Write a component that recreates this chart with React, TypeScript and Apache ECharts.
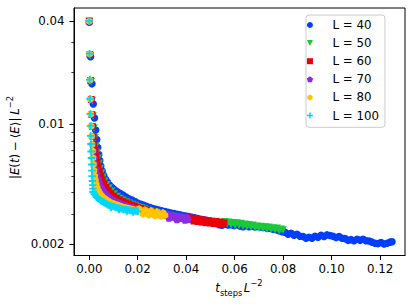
import React, { useEffect, useRef } from 'react';
import * as echarts from 'echarts';

// ---- axis definitions ----
const X_RANGE = [-0.0063, 0.1303];
const Y_RANGE = [0.001713, 0.04764];
const X_TICKS = [0, 0.02, 0.04, 0.06, 0.08, 0.1, 0.12];
const Y_MAJOR = [0.002, 0.01, 0.04];
const Y_MINOR = [0.003, 0.004, 0.005, 0.006, 0.007, 0.008, 0.009, 0.02, 0.03];

// ---- series data: [t_steps L^-2, |E(t)-<E>| L^-2] ----
const L40: [number, number][] = [[0, 0.0394],[0.00054, 0.02473],[0.00111, 0.01719],[0.00165, 0.01313],[0.00215, 0.01088],[0.00264, 0.00925],[0.0031, 0.00814],[0.00351, 0.00731],[0.00392, 0.00665],[0.00433, 0.00614],[0.00475, 0.0057],[0.00533, 0.00533],[0.00599, 0.00502],[0.00669, 0.00478],[0.00751, 0.00458],[0.00842, 0.0044],[0.00937, 0.00427],[0.0104, 0.00415],[0.01143, 0.00405],[0.01267, 0.00395],[0.01391, 0.00386],[0.01515, 0.00376],[0.01639, 0.00367],[0.01763, 0.00361],[0.01887, 0.00354],[0.0201, 0.00346],[0.02134, 0.00341],[0.02258, 0.00336],[0.02382, 0.00331],[0.02506, 0.00326],[0.0263, 0.00322],[0.02753, 0.00319],[0.02877, 0.00315],[0.03001, 0.00312],[0.03125, 0.00309],[0.03249, 0.00306],[0.03373, 0.00303],[0.03497, 0.00301],[0.0362, 0.00298],[0.03744, 0.00296],[0.03868, 0.00293],[0.03992, 0.00291],[0.04116, 0.00289],[0.0424, 0.00286],[0.04363, 0.00284],[0.04487, 0.00281],[0.04611, 0.00279],[0.04735, 0.00277],[0.04859, 0.00274],[0.04983, 0.00272],[0.05106, 0.00268],[0.0523, 0.00265],[0.05354, 0.00259],[0.05478, 0.00257],[0.05602, 0.00261],[0.05726, 0.00258],[0.0585, 0.00259],[0.05973, 0.00256],[0.06097, 0.00259],[0.06221, 0.00255],[0.06345, 0.00252],[0.06469, 0.00256],[0.06593, 0.00252],[0.06717, 0.00254],[0.06841, 0.00251],[0.06965, 0.00253],[0.07089, 0.00251],[0.07212, 0.0025],[0.07336, 0.00247],[0.0746, 0.00247],[0.07584, 0.00244],[0.07708, 0.00242],[0.07832, 0.00239],[0.07955, 0.00236],[0.08079, 0.00234],[0.08203, 0.00228],[0.08327, 0.00231],[0.0845, 0.00225],[0.08574, 0.00228],[0.08698, 0.00222],[0.08822, 0.00221],[0.08946, 0.00216],[0.0907, 0.00219],[0.09193, 0.00216],[0.09317, 0.00222],[0.09441, 0.00219],[0.09565, 0.00225],[0.09689, 0.00221],[0.09813, 0.00226],[0.09937, 0.00224],[0.1006, 0.00222],[0.10184, 0.00218],[0.10308, 0.00221],[0.10432, 0.00216],[0.10556, 0.00215],[0.1068, 0.0021],[0.10803, 0.00212],[0.10927, 0.00209],[0.11051, 0.00213],[0.11175, 0.0021],[0.11299, 0.00213],[0.11423, 0.00209],[0.11546, 0.00208],[0.1167, 0.00205],[0.11794, 0.00202],[0.11918, 0.00201],[0.12042, 0.00204],[0.12166, 0.002],[0.12289, 0.00202],[0.12413, 0.00205],[0.12496, 0.00206]];

const L50: [number, number][] = [[0, 0.0398],[0.0004, 0.02506],[0.0008, 0.01767],[0.0012, 0.01368],[0.0016, 0.01117],[0.002, 0.00951],[0.0024, 0.00831],[0.0028, 0.00746],[0.0033, 0.00684],[0.00367, 0.00635],[0.00409, 0.0059],[0.00454, 0.00552],[0.00508, 0.00519],[0.0057, 0.0049],[0.0064, 0.00466],[0.00722, 0.00443],[0.00813, 0.00424],[0.00916, 0.00407],[0.01028, 0.00392],[0.01152, 0.00379],[0.01276, 0.00369],[0.01399, 0.0036],[0.01523, 0.00352],[0.01647, 0.00346],[0.01771, 0.0034],[0.01895, 0.00335],[0.02019, 0.00329],[0.02142, 0.00325],[0.02266, 0.0032],[0.0239, 0.00315],[0.02514, 0.00311],[0.02638, 0.00308],[0.02762, 0.00305],[0.02886, 0.00302],[0.0301, 0.00299],[0.03133, 0.00296],[0.03257, 0.00293],[0.03381, 0.00291],[0.03505, 0.00289],[0.03629, 0.00286],[0.03752, 0.00284],[0.03876, 0.00282],[0.04, 0.0028],[0.04124, 0.00278],[0.04248, 0.00276],[0.04372, 0.00274],[0.04496, 0.00273],[0.04619, 0.00271],[0.04743, 0.0027],[0.04867, 0.00268],[0.04991, 0.00267],[0.05115, 0.00266],[0.05239, 0.00265],[0.05362, 0.00264],[0.05486, 0.00263],[0.05602, 0.0027],[0.05685, 0.00262],[0.05767, 0.00268],[0.0585, 0.00259],[0.05932, 0.00266],[0.06015, 0.00257],[0.06097, 0.00265],[0.0618, 0.00256],[0.06262, 0.00263],[0.06345, 0.00254],[0.06428, 0.00261],[0.0651, 0.00252],[0.06593, 0.00259],[0.06675, 0.00251],[0.06758, 0.00257],[0.06841, 0.00249],[0.06923, 0.00254],[0.07006, 0.00247],[0.07089, 0.00253],[0.07171, 0.00246],[0.07254, 0.00251],[0.07336, 0.00244],[0.07419, 0.0025],[0.07501, 0.00243],[0.07584, 0.00248],[0.07667, 0.00241],[0.07749, 0.00247],[0.07832, 0.00239],[0.07914, 0.00244],[0.07997, 0.00241]];

const L60: [number, number][] = [[0, 0.04],[0.00028, 0.0255],[0.00056, 0.018],[0.00083, 0.01395],[0.00111, 0.01138],[0.00139, 0.00968],[0.00167, 0.00845],[0.00194, 0.00757],[0.00248, 0.00702],[0.00285, 0.00648],[0.00322, 0.00601],[0.00367, 0.00562],[0.00417, 0.00528],[0.00475, 0.00498],[0.00537, 0.00472],[0.00607, 0.00449],[0.00689, 0.00428],[0.00784, 0.0041],[0.00888, 0.00395],[0.00999, 0.00381],[0.01123, 0.0037],[0.01247, 0.00362],[0.01371, 0.00354],[0.01494, 0.00348],[0.01618, 0.00343],[0.01742, 0.00337],[0.01866, 0.00333],[0.0199, 0.00327],[0.02114, 0.00323],[0.02238, 0.00319],[0.02361, 0.00315],[0.02485, 0.00311],[0.02609, 0.00308],[0.02733, 0.00305],[0.02857, 0.00301],[0.02981, 0.00299],[0.03104, 0.00296],[0.03228, 0.00293],[0.03352, 0.00291],[0.03476, 0.00289],[0.036, 0.00287],[0.03724, 0.00285],[0.03847, 0.00283],[0.03971, 0.00281],[0.04074, 0.00285],[0.04157, 0.00277],[0.0424, 0.00283],[0.04322, 0.00272],[0.04405, 0.0028],[0.04487, 0.0027],[0.0457, 0.00278],[0.04653, 0.00268],[0.04735, 0.00276],[0.04818, 0.00266],[0.049, 0.00274],[0.04983, 0.00265],[0.05065, 0.00272],[0.05148, 0.00263],[0.05231, 0.00271],[0.05313, 0.00262],[0.05396, 0.00269],[0.05478, 0.0026],[0.05561, 0.00266]];

const L70: [number, number][] = [[0, 0.04],[0.0002, 0.0257],[0.00041, 0.0181],[0.00061, 0.014],[0.00082, 0.01143],[0.00102, 0.00972],[0.00122, 0.00848],[0.00143, 0.0076],[0.00169, 0.00698],[0.00202, 0.00639],[0.00235, 0.0059],[0.00272, 0.00547],[0.00318, 0.00512],[0.00367, 0.00481],[0.00425, 0.00456],[0.00491, 0.00433],[0.00566, 0.00415],[0.00648, 0.004],[0.00751, 0.00386],[0.00854, 0.00374],[0.00958, 0.00365],[0.01061, 0.00358],[0.01185, 0.00351],[0.01309, 0.00345],[0.01432, 0.00339],[0.01556, 0.00335],[0.0168, 0.00331],[0.01804, 0.00327],[0.01928, 0.00323],[0.02052, 0.00319],[0.02176, 0.00315],[0.02299, 0.00312],[0.02423, 0.00309],[0.02547, 0.00306],[0.02671, 0.00303],[0.02795, 0.003],[0.02918, 0.00298],[0.03042, 0.00296],[0.03166, 0.00293],[0.03208, 0.00299],[0.03249, 0.00292],[0.0329, 0.00283],[0.03331, 0.0029],[0.03373, 0.00296],[0.03414, 0.00289],[0.03497, 0.00287],[0.03538, 0.00293],[0.03579, 0.00285],[0.0362, 0.00277],[0.03662, 0.00284],[0.03703, 0.00291],[0.03744, 0.00283],[0.03827, 0.00282],[0.03868, 0.00289],[0.03909, 0.00281],[0.0395, 0.00275],[0.03992, 0.00279],[0.04033, 0.00287],[0.04074, 0.00278]];

const L80: [number, number][] = [[0, 0.0399],[0.00016, 0.0257],[0.00031, 0.0181],[0.00047, 0.014],[0.00063, 0.01145],[0.00078, 0.00973],[0.00094, 0.0085],[0.00109, 0.00762],[0.00132, 0.00698],[0.00153, 0.00635],[0.00173, 0.00582],[0.00194, 0.00536],[0.00223, 0.00498],[0.00256, 0.00469],[0.00289, 0.00444],[0.0033, 0.00424],[0.0038, 0.00407],[0.00442, 0.00394],[0.00504, 0.00383],[0.00566, 0.00375],[0.00627, 0.00369],[0.00689, 0.00363],[0.00772, 0.00357],[0.00854, 0.00351],[0.00937, 0.00346],[0.0102, 0.00343],[0.01102, 0.00339],[0.01185, 0.00336],[0.01267, 0.00333],[0.0135, 0.0033],[0.01432, 0.00327],[0.01515, 0.00325],[0.01598, 0.00323],[0.0168, 0.00321],[0.01763, 0.00319],[0.01845, 0.00317],[0.01928, 0.00314],[0.0201, 0.00313],[0.02052, 0.00321],[0.02093, 0.00311],[0.02176, 0.00309],[0.02217, 0.00299],[0.02258, 0.00308],[0.02299, 0.00316],[0.02341, 0.00306],[0.02423, 0.00304],[0.02465, 0.00295],[0.02506, 0.00303],[0.02547, 0.00312],[0.02588, 0.00302],[0.02671, 0.003],[0.02712, 0.00292],[0.02753, 0.00299],[0.02795, 0.00308],[0.02836, 0.00298],[0.02918, 0.00297],[0.0296, 0.0029],[0.03001, 0.00296],[0.03042, 0.00304],[0.03084, 0.00295],[0.03125, 0.00294]];

const L100: [number, number][] = [[0, 0.04],[0.0001, 0.0258],[0.0002, 0.0182],[0.0003, 0.01405],[0.0004, 0.01148],[0.0005, 0.00977],[0.0006, 0.00854],[0.0007, 0.00766],[0.0008, 0.00693],[0.0009, 0.00635],[0.001, 0.00582],[0.0011, 0.00536],[0.0012, 0.00498],[0.0013, 0.00466],[0.0014, 0.00441],[0.0015, 0.00421],[0.0016, 0.00404],[0.00173, 0.00399],[0.00215, 0.00391],[0.00256, 0.00383],[0.00305, 0.00375],[0.00359, 0.00369],[0.00421, 0.00363],[0.00483, 0.00358],[0.00545, 0.00354],[0.00607, 0.0035],[0.00669, 0.00345],[0.00731, 0.00342],[0.00793, 0.00338],[0.00854, 0.00335],[0.00896, 0.00327],[0.00937, 0.00332],[0.0102, 0.0033],[0.01102, 0.00327],[0.01185, 0.00324],[0.01226, 0.00318],[0.01267, 0.00322],[0.0135, 0.0032],[0.01432, 0.00318],[0.01515, 0.00317],[0.01556, 0.00311],[0.01598, 0.00316],[0.0168, 0.00314],[0.01763, 0.00313],[0.01804, 0.00307],[0.01845, 0.00312],[0.01928, 0.00311],[0.02002, 0.0031]];

const SERIES_NAMES = ['L = 40', 'L = 50', 'L = 60', 'L = 70', 'L = 80', 'L = 100'];
const SERIES_DATA = [L40, L50, L60, L70, L80, L100];
const COLORS = ['#023eff', '#1ac938', '#e8000b', '#8b2be2', '#ffc400', '#00d7ff'];
const SYMBOLS = [
  'circle',
  'path://M0,0L2,0L1,2Z',
  'path://M0,0H1V1H0Z',
  'path://M1,0L1.951,0.691L1.588,1.809L0.412,1.809L0.049,0.691Z',
  'path://M0.866,0L1.732,0.5L1.732,1.5L0.866,2L0,1.5L0,0.5Z',
  'path://M3,0H5V3H8V5H5V8H3V5H0V3H3Z',
];
const SIZES = [7.5, 7.5, 6.8, 7.5, 7.5, 7.5];

const FONT = 'DejaVu Sans';
const lg = (v: number) => Math.log10(v);

const richStyles = {
  n: { fontFamily: FONT, fontSize: 11.8, lineHeight: 18, color: '#000' },
  i: { fontFamily: FONT, fontSize: 11.8, lineHeight: 18, fontStyle: 'italic', color: '#000' },
  sub: { fontFamily: FONT, fontSize: 8.3, lineHeight: 12, verticalAlign: 'bottom', color: '#000' },
  sup: { fontFamily: FONT, fontSize: 8.3, lineHeight: 9, verticalAlign: 'top', color: '#000' },
  sp: { fontFamily: FONT, fontSize: 5, lineHeight: 18, color: '#000' },
  b: { fontFamily: FONT, fontSize: 9, lineHeight: 18, color: '#000' },
};

export default function App() {
  const ref = useRef<HTMLDivElement>(null);
  useEffect(() => {
    document.body.style.margin = '0';
    const chart = echarts.init(ref.current!, null, { renderer: 'svg' });
    const yAxisCommon = {
      type: 'value',
      min: lg(Y_RANGE[0]),
      max: lg(Y_RANGE[1]),
      position: 'left',
      splitLine: { show: false },
    };
    const option: any = {
      animation: false,
      backgroundColor: '#fff',
      grid: {
        left: 74, right: 10, top: 8, bottom: 52.5,
        show: true, borderColor: '#000', borderWidth: 1,
        containLabel: false, outerBoundsMode: 'none',
      },
      legend: {
        data: SERIES_NAMES,
        orient: 'vertical',
        left: 306, top: 15,
        itemWidth: 35, itemHeight: 6, itemGap: 4.1,
        padding: [3, 6, 4.8, 0.8],
        backgroundColor: 'rgba(255,255,255,0.8)',
        borderColor: '#cccccc', borderWidth: 1, borderRadius: 3,
        symbolKeepAspect: true,
        selectedMode: false,
        textStyle: { color: '#000', fontSize: 11.8, fontFamily: FONT, lineHeight: 14 },
      },
      xAxis: {
        type: 'value',
        min: X_RANGE[0], max: X_RANGE[1],
        axisLine: { show: true, onZero: false, lineStyle: { color: '#000', width: 1 } },
        axisTick: { show: true, customValues: X_TICKS, length: 4.5, lineStyle: { color: '#000', width: 1 } },
        axisLabel: {
          customValues: X_TICKS,
          formatter: (v: number) => v.toFixed(2),
          color: '#000', fontSize: 11.8, fontFamily: FONT, margin: 7,
        },
        splitLine: { show: false },
      },
      yAxis: [
        {
          ...yAxisCommon,
          axisLine: { show: true, onZero: false, lineStyle: { color: '#000', width: 1 } },
          axisTick: { show: true, customValues: Y_MAJOR.map(lg), length: 4.5, lineStyle: { color: '#000', width: 1 } },
          axisLabel: {
            customValues: Y_MAJOR.map(lg),
            formatter: (v: number) => String(Number(Math.pow(10, v).toPrecision(3))),
            color: '#000', fontSize: 11.8, fontFamily: FONT, margin: 9.5,
          },
        },
        {
          ...yAxisCommon,
          axisLine: { show: false, onZero: false },
          axisTick: { show: true, customValues: Y_MINOR.map(lg), length: 2.6, lineStyle: { color: '#000', width: 0.8 } },
          axisLabel: { show: false },
        },
      ],
      series: SERIES_DATA.map((d, k) => ({
        name: SERIES_NAMES[k],
        type: 'scatter',
        xAxisIndex: 0,
        yAxisIndex: 0,
        data: d.map(([x, y]) => [x, lg(y)]),
        symbol: SYMBOLS[k],
        symbolSize: SIZES[k],
        symbolKeepAspect: true,
        itemStyle: { color: COLORS[k], opacity: 1 },
        emphasis: { disabled: true },
        silent: true,
      })),
      graphic: [
        {
          type: 'text',
          x: 239, y: 287.5,
          style: {
            text: '{i|t}{sub|steps}{sp| }{i|L}{sup|−2}',
            rich: richStyles,
            align: 'center', verticalAlign: 'middle',
          },
        },
        {
          type: 'text',
          x: 15, y: 137.5,
          rotation: Math.PI / 2,
          style: {
            text: '{n||}{i|E}{n|(}{i|t}{n|)}{b| }{n|−}{b| }{n|⟨}{i|E}{n|⟩|}{b| }{i|L}{sup|−2}',
            rich: richStyles,
            align: 'center', verticalAlign: 'middle',
          },
        },
      ],
    };
    chart.setOption(option);
    return () => chart.dispose();
  }, []);
  return <div ref={ref} style={{ width: 415, height: 308 }} />;
}
